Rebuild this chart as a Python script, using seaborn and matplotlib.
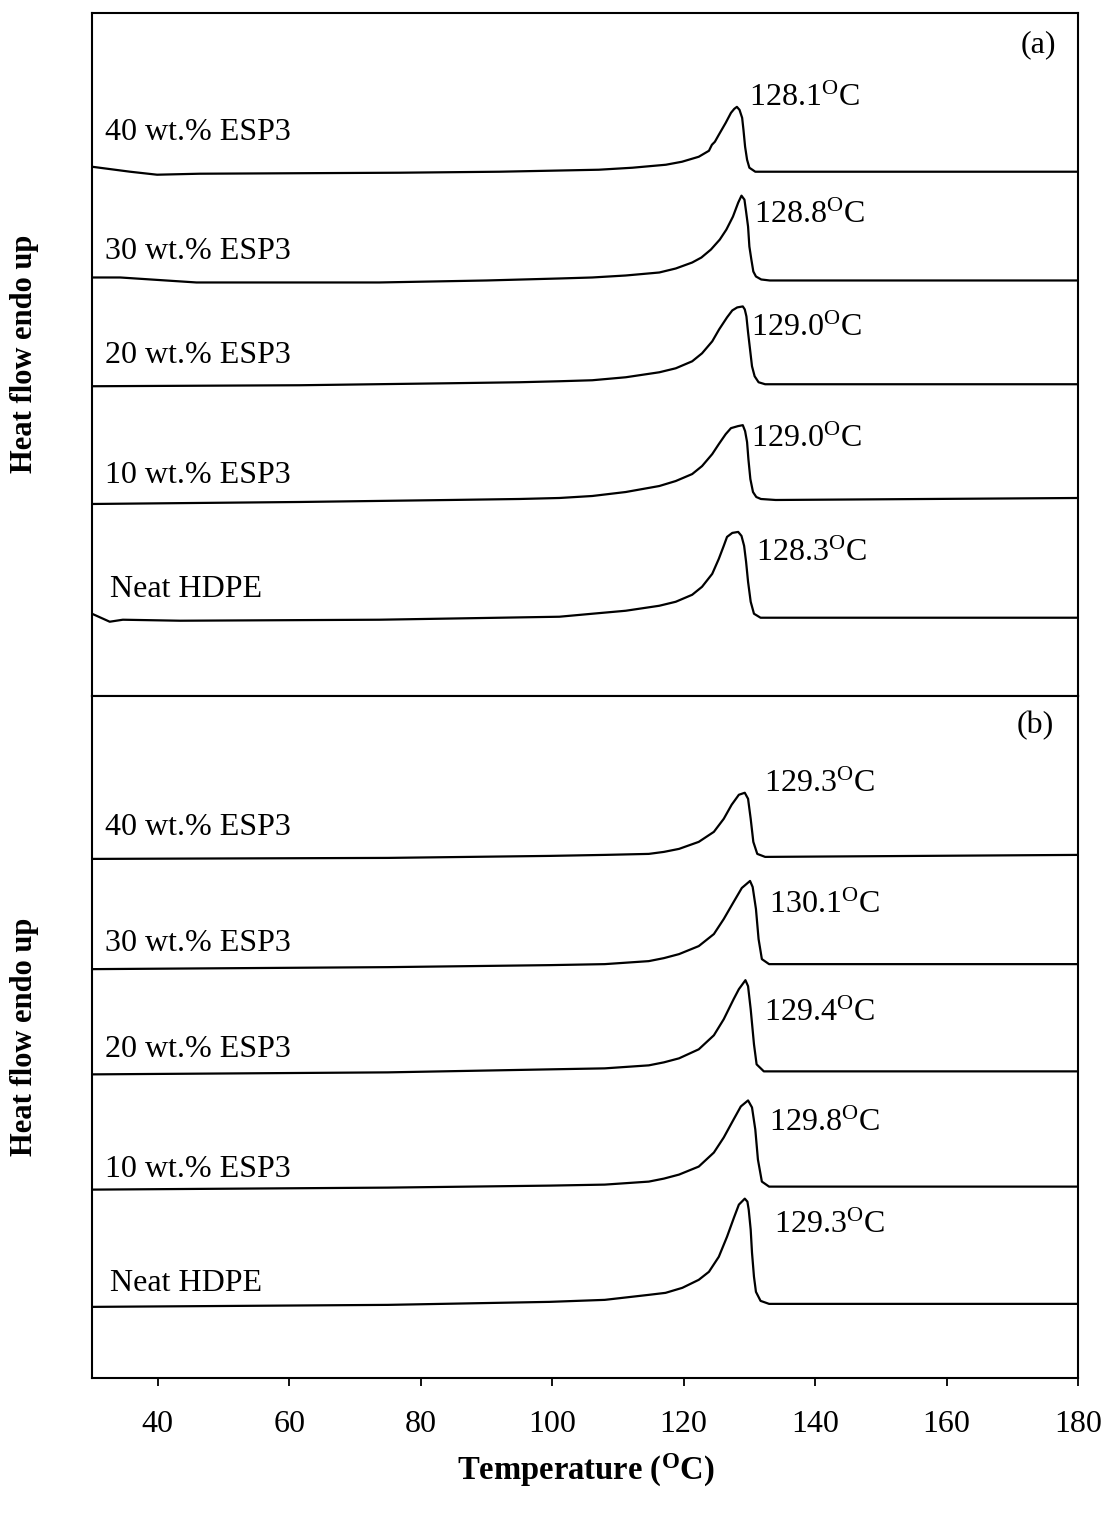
import matplotlib
matplotlib.use("Agg")
import matplotlib.pyplot as plt
import seaborn as sns
import pandas as pd

# ---------------- DSC heating scans, panel (a) ----------------
a_esp40_T = [30, 35.8, 39.9, 46.4, 76.8, 92.0, 99.6, 107.1, 112.2, 117.3, 119.75, 122.3, 123.85,
             124.3, 124.75, 125.35, 126.4, 127.2, 127.7, 128.1, 128.5, 128.9, 129.1,
             129.35, 129.65, 130.0, 130.9, 131.9, 150, 180]
a_esp40_hf = [5.30, 5.25, 5.22, 5.23, 5.24, 5.25, 5.26, 5.27, 5.29, 5.32, 5.35, 5.40, 5.46,
              5.52, 5.55, 5.62, 5.74, 5.84, 5.88, 5.90, 5.87, 5.79, 5.67,
              5.50, 5.37, 5.29, 5.25, 5.25, 5.25, 5.25]

a_esp30_T = [30, 34.3, 45.9, 73.7, 90.0, 101.1, 106.1, 111.2, 116.3, 118.8, 121.3, 122.7, 124.15,
             125.5, 126.5, 127.5, 128.3, 128.8, 129.25, 129.5, 129.8, 130.0, 130.3,
             130.6, 131.0, 131.8, 133.1, 180]
a_esp30_hf = [4.19, 4.19, 4.14, 4.14, 4.16, 4.18, 4.19, 4.21, 4.24, 4.28, 4.34, 4.39, 4.47,
              4.57, 4.67, 4.80, 4.94, 5.01, 4.97, 4.85, 4.70, 4.50, 4.37,
              4.25, 4.20, 4.17, 4.16, 4.16]

a_esp20_T = [30, 61.6, 84.4, 95.0, 101.1, 106.1, 111.2, 116.3, 118.8, 121.3, 122.8, 124.35, 125.4,
             126.6, 127.4, 128.15, 129.0, 129.3, 129.55, 129.8, 130.1, 130.4, 130.8,
             131.4, 132.4, 134.0, 180]
a_esp20_hf = [3.10, 3.11, 3.13, 3.14, 3.15, 3.16, 3.19, 3.24, 3.28, 3.35, 3.43, 3.55, 3.67,
              3.79, 3.86, 3.89, 3.90, 3.87, 3.80, 3.64, 3.47, 3.30, 3.20,
              3.14, 3.12, 3.12, 3.12]

a_esp10_T = [30, 61.6, 84.4, 95.0, 101.1, 106.1, 111.2, 116.3, 118.8, 121.3, 122.8, 124.35, 125.35,
             126.4, 127.2, 128.25, 129.0, 129.35, 129.65, 129.85, 130.15, 130.55, 131.05,
             131.75, 134.0, 180]
a_esp10_hf = [1.92, 1.94, 1.96, 1.97, 1.98, 2.00, 2.04, 2.10, 2.15, 2.22, 2.30, 2.42, 2.52,
              2.62, 2.68, 2.70, 2.71, 2.65, 2.54, 2.37, 2.17, 2.04, 1.99,
              1.97, 1.96, 1.98]

a_neat_T = [30, 32.7, 34.7, 43.4, 73.7, 92.0, 101.1, 106.1, 111.2, 116.3, 118.8, 121.3, 122.8,
            124.35, 125.35, 126.1, 126.6, 127.4, 128.3, 128.8, 129.2, 129.5, 129.8,
            130.2, 130.7, 131.7, 134.0, 180]
a_neat_hf = [0.82, 0.74, 0.76, 0.75, 0.76, 0.78, 0.79, 0.82, 0.85, 0.90, 0.94, 1.01, 1.09,
             1.22, 1.37, 1.50, 1.59, 1.63, 1.64, 1.60, 1.50, 1.34, 1.14,
             0.94, 0.82, 0.78, 0.78, 0.78]

# ---------------- DSC heating scans, panel (b) ----------------
b_esp40_T = [30, 75, 99.6, 108.0, 114.7, 117.0, 119.3, 122.3, 124.6, 126.1, 127.3, 128.4, 129.3,
             129.8, 130.2, 130.6, 131.2, 132.4, 180]
b_esp40_hf = [5.18, 5.19, 5.21, 5.22, 5.23, 5.25, 5.28, 5.35, 5.45, 5.58, 5.72, 5.82, 5.84,
              5.78, 5.58, 5.35, 5.23, 5.20, 5.22]

b_esp30_T = [30, 75, 99.6, 108.0, 114.7, 117.0, 119.3, 122.3, 124.6, 126.1, 127.6, 128.85, 130.1,
             130.5, 131.0, 131.4, 131.9, 133.0, 180]
b_esp30_hf = [4.08, 4.10, 4.12, 4.13, 4.16, 4.19, 4.23, 4.31, 4.43, 4.58, 4.75, 4.89, 4.96,
              4.90, 4.68, 4.38, 4.18, 4.13, 4.13]

b_esp20_T = [30, 75, 99.6, 108.0, 114.7, 117.0, 119.3, 122.3, 124.6, 126.1, 127.6, 128.4, 129.4,
             129.8, 130.2, 130.7, 131.1, 132.2, 180]
b_esp20_hf = [3.03, 3.05, 3.08, 3.09, 3.12, 3.15, 3.19, 3.28, 3.42, 3.58, 3.78, 3.88, 3.97,
              3.91, 3.68, 3.33, 3.13, 3.06, 3.06]

b_esp10_T = [30, 75, 99.6, 108.0, 114.7, 117.0, 119.3, 122.3, 124.6, 126.1, 127.6, 128.7, 129.8,
             130.4, 130.9, 131.3, 131.9, 133.0, 180]
b_esp10_hf = [1.88, 1.90, 1.92, 1.93, 1.96, 1.99, 2.03, 2.11, 2.25, 2.40, 2.58, 2.71, 2.77,
              2.70, 2.48, 2.18, 1.96, 1.91, 1.91]

b_neat_T = [30, 75, 99.6, 108.0, 114.7, 117.25, 119.8, 122.3, 123.85, 125.35, 126.6, 127.65,
            128.4, 129.3, 129.7, 129.9, 130.2, 130.4, 130.7, 131.0, 131.7, 133.0, 180]
b_neat_hf = [0.71, 0.73, 0.76, 0.78, 0.83, 0.85, 0.90, 0.98, 1.06, 1.21, 1.41, 1.60,
             1.73, 1.79, 1.76, 1.68, 1.48, 1.25, 1.01, 0.86, 0.77, 0.74, 0.74]

sample_names = ["40 wt.% ESP3", "30 wt.% ESP3", "20 wt.% ESP3", "10 wt.% ESP3", "Neat HDPE"]
peak_labels_a = ["128.1", "128.8", "129.0", "129.0", "128.3"]
peak_labels_b = ["129.3", "130.1", "129.4", "129.8", "129.3"]
x_ticks = [40, 60, 80, 100, 120, 140, 160, 180]

curves_a = [(a_esp40_T, a_esp40_hf), (a_esp30_T, a_esp30_hf), (a_esp20_T, a_esp20_hf),
            (a_esp10_T, a_esp10_hf), (a_neat_T, a_neat_hf)]
curves_b = [(b_esp40_T, b_esp40_hf), (b_esp30_T, b_esp30_hf), (b_esp20_T, b_esp20_hf),
            (b_esp10_T, b_esp10_hf), (b_neat_T, b_neat_hf)]

# text anchor positions (temperature, heat flow) for each panel
name_pos_a = [(32.0, 5.64), (32.0, 4.45), (32.0, 3.41), (32.0, 2.21), (32.7, 1.06)]
name_pos_b = [(32.0, 5.49), (32.0, 4.34), (32.0, 3.28), (32.0, 2.08), (32.7, 0.94)]
peak_pos_a = [(129.9, 5.91), (130.7, 4.74), (130.2, 3.60), (130.2, 2.49), (131.0, 1.35)]
peak_pos_b = [(132.2, 5.85), (133.0, 4.64), (132.2, 3.56), (133.0, 2.46), (133.7, 1.45)]

sns.set_theme(style="white")
plt.rcParams["font.family"] = ["Liberation Serif", "DejaVu Serif"]
plt.rcParams["mathtext.fontset"] = "custom"
plt.rcParams["mathtext.rm"] = "Liberation Serif"
plt.rcParams["mathtext.bf"] = "Liberation Serif:bold"
plt.rcParams["mathtext.it"] = "Liberation Serif:italic"
plt.rcParams["text.color"] = "black"
plt.rcParams["axes.labelcolor"] = "black"
plt.rcParams["xtick.color"] = "black"
plt.rcParams["xtick.labelcolor"] = "black"

FS = 23

fig, (ax_a, ax_b) = plt.subplots(2, 1, sharex=True, figsize=(11.08, 15.2), dpi=100)
fig.subplots_adjust(left=0.083, right=0.973, top=0.9914, bottom=0.0934, hspace=0)


def draw_panel(ax, curves, names, name_pos, peaks, peak_pos, tag, tag_pos, ytop):
    for (T, hf), name, npos, pk, ppos in zip(curves, names, name_pos, peaks, peak_pos):
        df = pd.DataFrame({"Temperature": T, "Heat flow": hf})
        sns.lineplot(data=df, x="Temperature", y="Heat flow", ax=ax, color="black",
                     linewidth=1.6, sort=False, estimator=None)
        ax.text(npos[0], npos[1], name, fontsize=FS, ha="left", va="center")
        ax.text(ppos[0], ppos[1], pk + r"$^{\mathrm{O}}$C", fontsize=FS,
                ha="left", va="baseline")
    ax.text(tag_pos[0], tag_pos[1], tag, fontsize=FS, ha="center", va="center")
    ax.set_ylim(0, ytop)
    ax.set_yticks([])
    ax.set_ylabel("Heat flow endo up", fontsize=22, fontweight="bold")
    ax.yaxis.set_label_coords(-0.068, 0.5)
    ax.yaxis.label.set_va("center")
    for sp in ax.spines.values():
        sp.set_visible(True)
        sp.set_color("black")
        sp.set_linewidth(1.5)


draw_panel(ax_a, curves_a, sample_names, name_pos_a, peak_labels_a, peak_pos_a,
           "(a)", (174.0, 6.52), 6.84)
draw_panel(ax_b, curves_b, sample_names, name_pos_b, peak_labels_b, peak_pos_b,
           "(b)", (173.5, 6.51), 6.81)

ax_b.set_xlim(30, 180)
ax_b.set_xticks(x_ticks)
ax_a.tick_params(axis="x", bottom=False, labelbottom=False)
ax_a.set_xlabel("")
ax_b.tick_params(axis="x", direction="out", bottom=True, length=6, width=1.3,
                 labelsize=FS, pad=17, colors="black")
ax_b.set_xlabel(r"Temperature ($^{\mathbf{O}}$C)", fontsize=23.5, fontweight="bold")
ax_b.xaxis.set_label_coords(0.501, -0.135)
ax_b.xaxis.label.set_va("center")

fig.savefig("out.png", dpi=100)
